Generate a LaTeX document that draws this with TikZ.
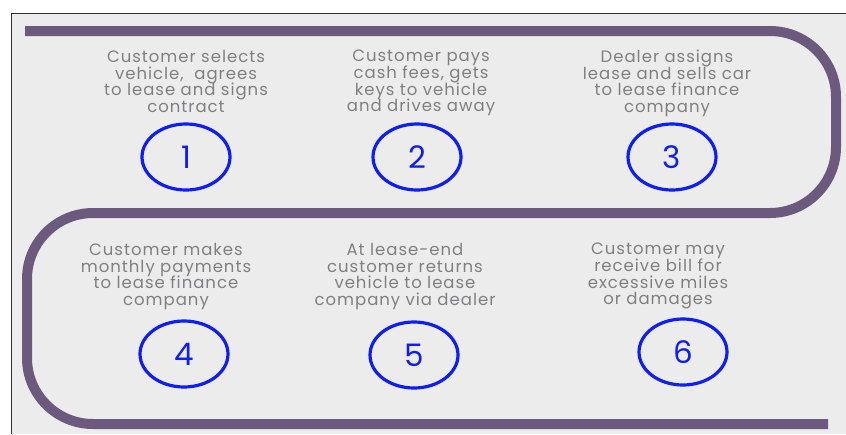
\documentclass[tikz,border=0pt]{standalone}
\usepackage{fontspec}
\setmainfont{Poppins}
\newfontfamily\stepfont[LetterSpace=6]{Poppins}
\newcommand\mysteptext{\stepfont\fontsize{16.5}{16.6}\selectfont\setlength{\lineskiplimit}{-20pt}}
\usetikzlibrary{shapes.geometric}
\definecolor{bgc}{RGB}{236,236,236}
\definecolor{snakec}{RGB}{107,90,125}
\definecolor{txtc}{RGB}{128,128,130}
\definecolor{numc}{RGB}{15,30,245}
\begin{document}
\begin{tikzpicture}[x=1pt,y=-1pt,
  stepbox/.style={align=center,text=txtc,font=\mysteptext,inner sep=0pt,anchor=north},
  numoval/.style={draw=numc,line width=3.2pt,ellipse,minimum width=88pt,minimum height=66pt,inner sep=0pt,text=numc,font=\fontsize{31}{31}\selectfont},
  snake/.style={draw=snakec,line width=10pt,rounded corners=66pt}]
\useasboundingbox (0,0) rectangle (846,434);
\fill[white] (0,0) rectangle (846,434);
\fill[bgc] (11,13) rectangle (846,434);
\draw[black!80,line width=0.8pt] (11,434) -- (11,13) -- (846,13);
\draw[snake] (25,31) -- (836,31) -- (836,213) -- (27,213) -- (27,424) -- (828,424);
\node[stepbox] (t1) at (186,50) {Customer selects\\vehicle,\ \ agrees\\to lease and signs\\contract};
\node[stepbox] (t2) at (421,50) {Customer pays\\cash fees, gets\\keys to vehicle\\and drives away};
\node[stepbox] (t3) at (667,50) {Dealer assigns\\lease and sells car\\to lease finance\\company};
\node[stepbox] (t4) at (166,243) {Customer makes\\monthly payments\\to lease finance\\company};
\node[stepbox] (t5) at (405,243) {At lease-end\\customer returns\\vehicle to lease\\company via dealer};
\node[stepbox] (t6) at (658,243) {Customer may\\receive bill for\\excessive miles\\or damages};
\node[numoval] (n1) at (186,157) {1};
\node[numoval] (n2) at (417,157) {2};
\node[numoval] (n3) at (672,157) {3};
\node[numoval] (n4) at (184,354) {4};
\node[numoval] (n5) at (414,355) {5};
\node[numoval] (n6) at (683,352) {6};
\end{tikzpicture}
\end{document}
